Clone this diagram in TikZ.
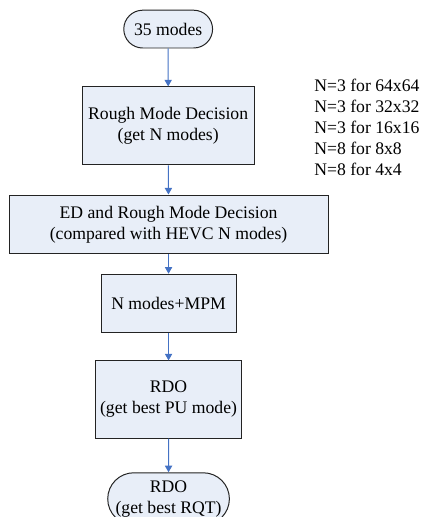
\documentclass[tikz,border=0pt]{standalone}
\usepackage{fontspec}
\setmainfont{Liberation Serif}
\usepackage{xcolor}
\usepackage{tikz}
\usetikzlibrary{shapes.misc, positioning, arrows.meta}
\definecolor{FlowFill}{RGB}{232,238,248}
\definecolor{FlowEdge}{RGB}{35,35,35}
\definecolor{FlowBlue}{RGB}{68,114,196}

\begin{document}
\begin{tikzpicture}[
      proc/.style={rectangle, draw=FlowEdge, fill=FlowFill, line width=0.75pt,
                   align=center, inner sep=2pt,
                   font=\fontsize{13.3}{15.8}\selectfont},
      term/.style={proc, rounded rectangle},
      flow/.style={-{Triangle[length=5pt, width=5.5pt]}, FlowBlue, line width=0.75pt},
      note/.style={align=left, inner sep=0pt,
                   font=\fontsize{13.3}{15.8}\selectfont}
    ]
    \useasboundingbox (0, 0) rectangle (11.22, -13.68);
    \clip (0, 0) rectangle (11.22, -13.68);

    % Start
    \node[term, minimum width=2.49cm, minimum height=1.0cm]
          (start) at (4.45, -0.77) {35 modes};

    % Step 1 — rough decision
    \node[proc, minimum width=4.55cm, minimum height=2.06cm]
          (rmd) at (4.45, -3.33) {Rough Mode Decision\\(get N modes)};
    \node[note, anchor=west] (nlist) at (8.31, -3.36)
          {N=3 for 64x64\\N=3 for 32x32\\N=3 for 16x16\\N=8 for 8x8\\N=8 for 4x4};

    % Step 2 — ED
    \node[proc, minimum width=8.44cm, minimum height=1.56cm]
          (ed) at (4.46, -5.94) {ED and Rough Mode Decision\\(compared with HEVC N modes)};

    % Step 3 — candidate list
    \node[proc, minimum width=3.57cm, minimum height=1.53cm]
          (mpm) at (4.46, -8.02) {N modes+MPM};

    % Step 4 — RDO
    \node[proc, minimum width=3.84cm, minimum height=2.04cm]
          (rdo) at (4.46, -10.57) {RDO\\(get best PU mode)};

    % End
    \node[term, minimum width=3.36cm, minimum height=1.38cm]
          (rqt) at (4.46, -13.2) {RDO\\(get best RQT)};

    \draw[flow] (start) -- (rmd);
    \draw[flow] (rmd) -- (ed);
    \draw[flow] (ed) -- (mpm);
    \draw[flow] (mpm) -- (rdo);
    \draw[flow] (rdo) -- (rqt);
  \end{tikzpicture}
\end{document}
